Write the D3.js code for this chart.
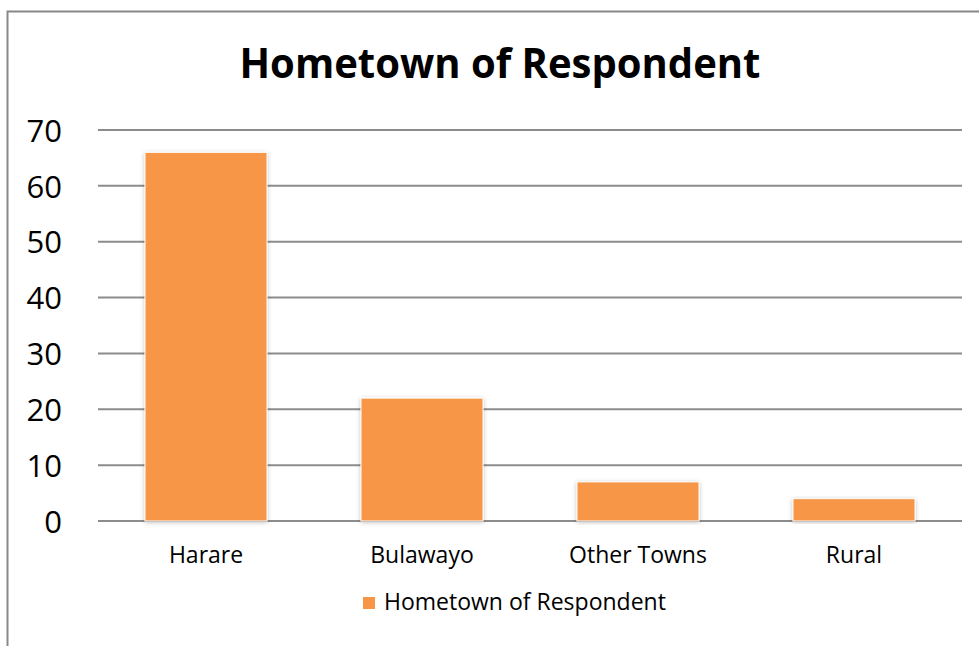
<!DOCTYPE html>
<html><head><meta charset="utf-8">
<script src="https://cdn.jsdelivr.net/npm/d3@7"></script>
<style>body{margin:0;background:#fff}svg{display:block}</style>
</head><body>
<script>
const categories = ["Harare", "Bulawayo", "Other Towns", "Rural"];
const values = [66, 22, 7, 4];
const yTicks = [0, 10, 20, 30, 40, 50, 60, 70];
const seriesName = "Hometown of Respondent";
const title = "Hometown of Respondent";

const W = 979, H = 646;
const svg = d3.select("body").append("svg").attr("width", W).attr("height", H);
const defs = svg.append("defs");
const f = defs.append("filter").attr("id","sh").attr("x","-10%").attr("y","-10%").attr("width","120%").attr("height","120%");
f.append("feDropShadow").attr("dx",0).attr("dy",1).attr("stdDeviation",2).attr("flood-color","#000").attr("flood-opacity",0.25);

// outer border
svg.append("path").attr("d", `M7.5,${H} V11.5 H${W}`).attr("fill","none").attr("stroke","#888").attr("stroke-width",2);

const m = {left: 98, right: 962, top: 130, bottom: 521};
const x = d3.scaleBand().domain(categories).range([m.left, m.right]).paddingInner(0.435).paddingOuter(0.2175);
const y = d3.scaleLinear().domain([0, 70]).range([m.bottom, m.top]);

// gridlines
svg.append("g").selectAll("line").data(yTicks).join("line")
  .attr("x1", m.left).attr("x2", m.right)
  .attr("y1", d => y(d)).attr("y2", d => y(d))
  .attr("stroke", "#8c8c8c").attr("stroke-width", 2);

// y axis labels
const yAxis = d3.axisLeft(y).tickValues(yTicks).tickSize(0).tickPadding(0);
const ya = svg.append("g").attr("transform", `translate(62,0)`).call(yAxis);
ya.select(".domain").remove();
ya.selectAll("text").attr("font-family","'Open Sans', sans-serif").attr("font-size",31).attr("fill","#000").attr("dy","0.36em");

// bars
svg.append("g").selectAll("rect").data(values).join("rect")
  .attr("x", (d,i) => x(categories[i]))
  .attr("width", x.bandwidth())
  .attr("y", d => y(d))
  .attr("height", d => y(0) - y(d))
  .attr("fill", "#f79646")
  .attr("stroke", "#fff").attr("stroke-width", 1)
  .attr("filter","url(#sh)");

// x axis labels
const xAxis = d3.axisBottom(x).tickSize(0).tickPadding(0);
const xa = svg.append("g").attr("transform", `translate(0,563)`).call(xAxis);
xa.select(".domain").remove();
xa.selectAll("text").attr("font-family","'Open Sans', sans-serif").attr("font-size",23).attr("fill","#000").attr("dy",0);

// title
svg.append("text").attr("x", 500).attr("y", 78).attr("text-anchor","middle")
  .attr("font-family","'Open Sans', sans-serif").attr("font-weight","bold").attr("font-size",41)
  .attr("textLength", 521).attr("lengthAdjust","spacingAndGlyphs")
  .text(title);

// legend
const lg = svg.append("g");
lg.append("rect").attr("x",363).attr("y",597).attr("width",12).attr("height",12).attr("fill","#f79646");
lg.append("text").attr("x",384).attr("y",610).attr("font-family","'Open Sans', sans-serif").attr("font-size",23).attr("fill","#000").text(seriesName);
</script>
</body></html>
